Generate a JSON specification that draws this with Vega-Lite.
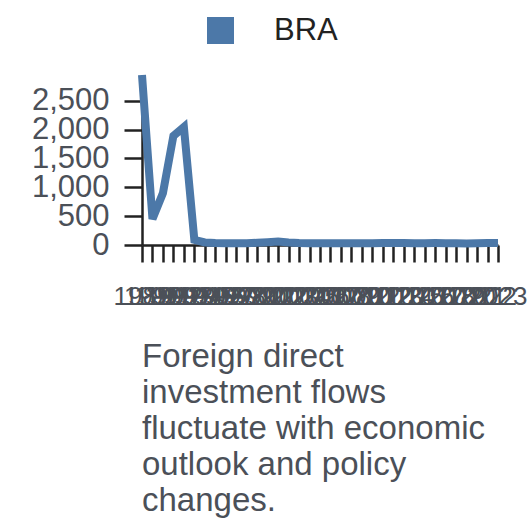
{
  "$schema": "https://vega.github.io/schema/vega-lite/v6.json",
  "width": 356,
  "height": 170,
  "padding": {"left": 31, "top": 15, "right": 2, "bottom": 5},
  "background": "white",
  "data": {
    "values": [
      {"year": "1989", "country": "BRA", "value": 2945},
      {"year": "1990", "country": "BRA", "value": 450},
      {"year": "1991", "country": "BRA", "value": 900},
      {"year": "1992", "country": "BRA", "value": 1890},
      {"year": "1993", "country": "BRA", "value": 2045},
      {"year": "1994", "country": "BRA", "value": 90},
      {"year": "1995", "country": "BRA", "value": 45},
      {"year": "1996", "country": "BRA", "value": 35},
      {"year": "1997", "country": "BRA", "value": 30},
      {"year": "1998", "country": "BRA", "value": 30},
      {"year": "1999", "country": "BRA", "value": 32},
      {"year": "2000", "country": "BRA", "value": 38},
      {"year": "2001", "country": "BRA", "value": 48},
      {"year": "2002", "country": "BRA", "value": 60},
      {"year": "2003", "country": "BRA", "value": 45},
      {"year": "2004", "country": "BRA", "value": 35},
      {"year": "2005", "country": "BRA", "value": 32},
      {"year": "2006", "country": "BRA", "value": 30},
      {"year": "2007", "country": "BRA", "value": 30},
      {"year": "2008", "country": "BRA", "value": 32},
      {"year": "2009", "country": "BRA", "value": 30},
      {"year": "2010", "country": "BRA", "value": 30},
      {"year": "2011", "country": "BRA", "value": 32},
      {"year": "2012", "country": "BRA", "value": 33},
      {"year": "2013", "country": "BRA", "value": 35},
      {"year": "2014", "country": "BRA", "value": 33},
      {"year": "2015", "country": "BRA", "value": 32},
      {"year": "2016", "country": "BRA", "value": 32},
      {"year": "2017", "country": "BRA", "value": 33},
      {"year": "2018", "country": "BRA", "value": 32},
      {"year": "2019", "country": "BRA", "value": 30},
      {"year": "2020", "country": "BRA", "value": 28},
      {"year": "2021", "country": "BRA", "value": 32},
      {"year": "2022", "country": "BRA", "value": 35},
      {"year": "2023", "country": "BRA", "value": 35}
    ]
  },
  "title": {
    "text": ["Foreign direct", "investment flows", "fluctuate with economic", "outlook and policy", "changes."],
    "orient": "bottom",
    "anchor": "start",
    "frame": "group",
    "fontSize": 33,
    "fontWeight": "normal",
    "font": "Liberation Sans",
    "color": "#4b5058",
    "lineHeight": 36,
    "offset": 32
  },
  "mark": {"type": "line", "strokeWidth": 8},
  "encoding": {
    "x": {
      "field": "year",
      "type": "ordinal",
      "scale": {"padding": 0},
      "axis": {
        "title": null,
        "labelAngle": 0,
        "labelOverlap": false,
        "labelFontSize": 26,
        "labelFont": "Liberation Sans",
        "labelColor": "#4b5058",
        "labelPadding": 21,
        "tickSize": 17,
        "tickWidth": 2.5,
        "tickColor": "#222",
        "domainColor": "#222",
        "domainWidth": 2.5
      }
    },
    "y": {
      "field": "value",
      "type": "quantitative",
      "scale": {"nice": false, "zero": true},
      "axis": {
        "title": null,
        "grid": false,
        "values": [0, 500, 1000, 1500, 2000, 2500],
        "labelOverlap": false,
        "labelFontSize": 31,
        "labelFont": "Liberation Sans",
        "labelColor": "#4b5058",
        "labelPadding": 15,
        "tickSize": 18,
        "tickWidth": 2.5,
        "tickColor": "#222",
        "domainColor": "#222",
        "domainWidth": 2.5
      }
    },
    "color": {
      "field": "country",
      "type": "nominal",
      "scale": {"range": ["#4c78a8"]},
      "legend": {
        "title": null,
        "orient": "none",
        "legendX": 63,
        "legendY": -60,
        "symbolType": "square",
        "symbolSize": 729,
        "symbolFillColor": "#4c78a8",
        "symbolStrokeColor": "#4c78a8",
        "symbolStrokeWidth": 0,
        "labelFontSize": 31,
        "labelFont": "Liberation Sans",
        "labelColor": "#222",
        "labelOffset": 38
      }
    }
  },
  "config": {"view": {"stroke": null}}
}
